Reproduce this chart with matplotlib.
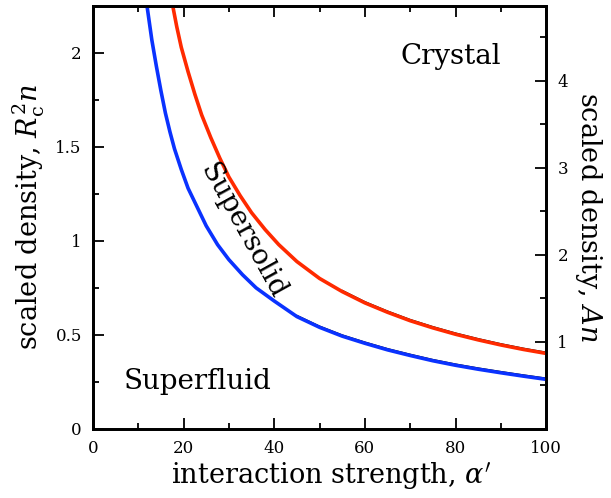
import matplotlib
matplotlib.use("Agg")
import matplotlib.pyplot as plt
from matplotlib.ticker import MultipleLocator

plt.rcParams['font.family'] = 'DejaVu Serif'
plt.rcParams['mathtext.fontset'] = 'dejavuserif'

# boundary superfluid / supersolid (blue)
alphaSF = [12, 13, 14, 15, 16, 17, 18, 19.5, 21, 23, 25, 27.5, 30, 33, 36, 40,
           45, 50, 55, 60, 65, 70, 75, 80, 85, 90, 95, 100]
densSF = [2.24, 2.07, 1.93, 1.80, 1.68, 1.58, 1.49, 1.38, 1.28, 1.18, 1.08, 0.98,
          0.90, 0.82, 0.75, 0.68, 0.597, 0.54, 0.493, 0.455, 0.42, 0.39, 0.362,
          0.338, 0.317, 0.298, 0.28, 0.263]

# boundary supersolid / crystal (red)
alphaCR = [17.7, 18.5, 19.5, 21, 22.5, 24, 26, 28, 30, 32.5, 35, 38, 41, 45, 50,
           55, 60, 65, 70, 75, 80, 85, 90, 95, 100]
densCR = [2.24, 2.14, 2.03, 1.90, 1.78, 1.67, 1.55, 1.44, 1.34, 1.24, 1.15, 1.06,
          0.98, 0.89, 0.80, 0.73, 0.67, 0.62, 0.575, 0.537, 0.503, 0.473, 0.446,
          0.422, 0.401]

# thin black asymptotic lines, just above the coloured ones
alphaAsymSF = [45, 50, 55, 60, 65, 70, 75, 80, 85, 90, 95, 100]
densAsymSF = [0.604, 0.547, 0.5, 0.462, 0.427, 0.397, 0.369, 0.345, 0.324, 0.305,
              0.287, 0.27]
alphaAsymCR = [55, 60, 65, 70, 75, 80, 85, 90, 95, 100]
densAsymCR = [0.737, 0.677, 0.627, 0.582, 0.544, 0.51, 0.48, 0.453, 0.429, 0.408]

xTicks = [0, 20, 40, 60, 80, 100]
yTicks = [0, 0.5, 1, 1.5, 2]
yRightTicks = [1, 2, 3, 4]
ratioAn = 2.16  # A n = ratioAn * Rc^2 n

fig = plt.figure(figsize=(6.11, 4.98), dpi=100)
ax = fig.add_axes([0.152, 0.139, 0.742, 0.849])

ax.plot(alphaAsymSF, densAsymSF, color='black', lw=0.8, zorder=2)
ax.plot(alphaAsymCR, densAsymCR, color='black', lw=0.8, zorder=2)
ax.plot(alphaSF, densSF, color='#0a32ff', lw=2.6, zorder=3)
ax.plot(alphaCR, densCR, color='#ff2a00', lw=2.6, zorder=3)

ax.set_xlim(0, 100)
ax.set_ylim(0, 2.25)
ax.set_xticks(xTicks)
ax.set_yticks(yTicks)
ax.set_yticklabels(['0', '0.5', '1', '1.5', '2'])
ax.xaxis.set_minor_locator(MultipleLocator(10))
ax.yaxis.set_minor_locator(MultipleLocator(0.25))
ax.tick_params(which='both', direction='in', top=True, right=False, width=1.3,
               labelsize=12, pad=8)
ax.tick_params(which='major', length=8)
ax.tick_params(which='minor', length=4.5)
for s in ax.spines.values():
    s.set_linewidth(2)

ax.set_xlabel(r"interaction strength, $\alpha'$", fontsize=19.5, labelpad=2)
ax.xaxis.set_label_coords(0.525, -0.075)
ax.set_ylabel(r"scaled density, $R_{\rm c}^2 n$", fontsize=19.5, labelpad=6)

ax2 = ax.twinx()
ax2.set_ylim(0, 2.25 * ratioAn)
ax2.set_yticks(yRightTicks)
ax2.yaxis.set_minor_locator(MultipleLocator(0.5))
ax2.tick_params(which='both', direction='in', width=1.3, labelsize=12, pad=8)
ax2.tick_params(which='major', length=8)
ax2.tick_params(which='minor', length=4.5)
for s in ax2.spines.values():
    s.set_linewidth(2)
ax2.set_ylabel(r"scaled density, $An$", fontsize=19.5, rotation=-90, labelpad=26)

ax.text(79, 1.98, 'Crystal', fontsize=20, ha='center', va='center')
ax.text(23, 0.25, 'Superfluid', fontsize=20, ha='center', va='center')
ax.text(33, 1.05, 'Supersolid', fontsize=20, ha='center', va='center',
        rotation=-61)

fig.savefig('out.png', dpi=100)
